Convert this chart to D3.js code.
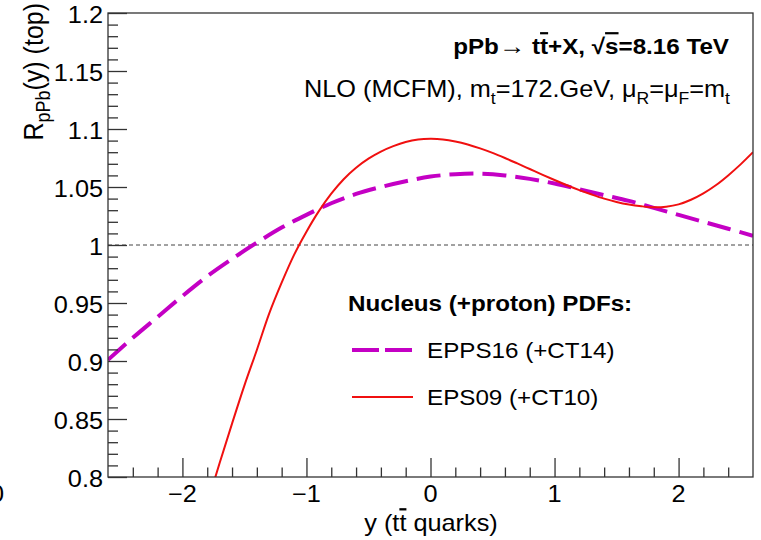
<!DOCTYPE html>
<html><head><meta charset="utf-8">
<script src="https://cdn.jsdelivr.net/npm/d3@7/dist/d3.min.js"></script>
<style>
body{margin:0;background:#fff;}
svg{display:block;}
text{font-family:"Liberation Sans",Arial,Helvetica,sans-serif;fill:#000;}
</style>
</head><body>
<svg id="c" width="761" height="540"></svg>
<script>
// ---- data ----
const xDomain = [-2.6, 2.6];
const yDomain = [0.8, 1.2];
const xTicks = [-2, -1, 0, 1, 2];
const xTickLabels = ["\u22122", "\u22121", "0", "1", "2"];
const yTicks = [0.8, 0.85, 0.9, 0.95, 1, 1.05, 1.1, 1.15, 1.2];
const yTickLabels = ["0.8", "0.85", "0.9", "0.95", "1", "1.05", "1.1", "1.15", "1.2"];

const eppsX = [-2.6,-2.4,-2.2,-2.0,-1.8,-1.6,-1.4,-1.2,-1.0,-0.8,-0.6,-0.4,-0.2,0.0,0.2,0.4,0.6,0.8,1.0,1.2,1.4,1.6,1.8,2.0,2.2,2.4,2.6];
const eppsY = [0.901,0.920,0.938,0.956,0.973,0.988,1.002,1.015,1.026,1.036,1.044,1.050,1.055,1.059,1.061,1.0615,1.060,1.057,1.053,1.048,1.043,1.038,1.032,1.026,1.020,1.014,1.008];

const epsX = [-1.8,-1.7,-1.6,-1.5,-1.4,-1.3,-1.2,-1.1,-1.0,-0.9,-0.8,-0.7,-0.6,-0.5,-0.4,-0.3,-0.2,-0.1,0.0,0.1,0.2,0.3,0.4,0.5,0.6,0.7,0.8,0.9,1.0,1.1,1.2,1.3,1.4,1.5,1.6,1.7,1.8,1.9,2.0,2.1,2.2,2.3,2.4,2.5,2.6];
const epsY = [0.777,0.812,0.846,0.879,0.9095,0.941,0.9675,0.9915,1.0115,1.0292,1.0442,1.0567,1.0666,1.0744,1.0805,1.0852,1.0888,1.0909,1.0915,1.0910,1.0893,1.0867,1.0833,1.0794,1.0750,1.0703,1.0655,1.0607,1.0560,1.0515,1.0473,1.0435,1.0400,1.0371,1.0349,1.0334,1.0325,1.0330,1.0350,1.0390,1.0445,1.0515,1.0600,1.0695,1.0800];

const seriesNames = ["EPPS16 (+CT14)", "EPS09 (+CT10)"];
const seriesColors = ["#c400c4", "#f01010"];

// ---- layout ----
const L = 108, R = 753, T = 13, B = 477;
const SX = 1.1; // horizontal text stretch seen in reference

const svg = d3.select("#c");
const x = d3.scaleLinear().domain(xDomain).range([L, R]);
const y = d3.scaleLinear().domain(yDomain).range([B, T]);

const axisCol = "#333";

svg.append("defs").append("clipPath").attr("id", "clip")
  .append("rect").attr("x", L).attr("y", T).attr("width", R - L).attr("height", B - T);

// reference line at 1
svg.append("line")
  .attr("x1", L).attr("x2", R).attr("y1", y(1)).attr("y2", y(1))
  .attr("stroke", "#444").attr("stroke-width", 1).attr("stroke-dasharray", "4,3");

// curves
const line = d3.line().x(d => x(d[0])).y(d => y(d[1])).curve(d3.curveCatmullRom.alpha(0.5));
const g = svg.append("g").attr("clip-path", "url(#clip)");
g.append("path").datum(eppsX.map((v, i) => [v, eppsY[i]]))
  .attr("d", line).attr("fill", "none").attr("stroke", seriesColors[0])
  .attr("stroke-width", 4).attr("stroke-dasharray", "24,9");
g.append("path").datum(epsX.map((v, i) => [v, epsY[i]]))
  .attr("d", line).attr("fill", "none").attr("stroke", seriesColors[1])
  .attr("stroke-width", 2);

// frame
svg.append("rect").attr("x", L).attr("y", T).attr("width", R - L).attr("height", B - T)
  .attr("fill", "none").attr("stroke", axisCol).attr("stroke-width", 1.3);

// x axis ticks (inward)
const xMinorVals = d3.range(-26, 27, 2).map(v => v / 10)
  .filter(v => !xTicks.some(t => Math.abs(t - v) < 1e-6) && v > -2.59 && v < 2.59);
const xAxis = d3.axisTop(x).tickValues(xTicks).tickSize(19).tickFormat("");
const xAxisMinor = d3.axisTop(x).tickValues(xMinorVals).tickSize(9.5).tickFormat("");
[xAxis, xAxisMinor].forEach(a => {
  const gg = svg.append("g").attr("transform", `translate(0,${B})`).call(a);
  gg.select(".domain").remove();
  gg.selectAll("line").attr("stroke", axisCol).attr("stroke-width", 1.3);
});
// y axis ticks (inward)
const yMinorVals = d3.range(80, 121, 1).map(v => v / 100)
  .filter(v => !yTicks.some(t => Math.abs(t - v) < 1e-6));
const yAxis = d3.axisRight(y).tickValues(yTicks).tickSize(19).tickFormat("");
const yAxisMinor = d3.axisRight(y).tickValues(yMinorVals).tickSize(10).tickFormat("");
[yAxis, yAxisMinor].forEach(a => {
  const gg = svg.append("g").attr("transform", `translate(${L},0)`).call(a);
  gg.select(".domain").remove();
  gg.selectAll("line").attr("stroke", axisCol).attr("stroke-width", 1.3);
});

// helper for stretched text
function stext(px, py, anchor, size, weight) {
  return svg.append("g").attr("transform", `translate(${px},${py}) scale(${SX},1)`)
    .append("text").attr("text-anchor", anchor).attr("font-size", size).attr("font-weight", weight || "normal");
}

// tick labels
yTicks.forEach((v, i) => stext(103, y(v) + 9.8, "end", 23).text(yTickLabels[i]));
xTicks.forEach((v, i) => stext(x(v), 502, "middle", 23).text(xTickLabels[i]));

// clipped label fragment at the left edge (as in the reference)
stext(4, 502, "end", 23).text("0");

// axis titles
const xt = stext(431, 531, "middle", 23);
xt.append("tspan").text("y (t");
xt.append("tspan").text("t").style("text-decoration", "overline");
xt.append("tspan").text(" quarks)");

const ytG = svg.append("g").attr("transform", `translate(43,3) scale(${SX},1) rotate(-90)`);
const yt = ytG.append("text").attr("text-anchor", "end").attr("font-size", 25);
yt.append("tspan").text("R");
yt.append("tspan").attr("font-size", 18).attr("dy", 6).text("pPb");
yt.append("tspan").attr("dy", -6).text("(y) (top)");

// header texts
const t1 = stext(729, 54, "end", 22, "bold");
t1.append("tspan").text("pPb");
t1.append("tspan").attr("font-weight", "normal").attr("font-size", 24).text("\u2192");
t1.append("tspan").text(" t");
t1.append("tspan").text("t").style("text-decoration", "overline");
t1.append("tspan").text("+X,  \u221A");
t1.append("tspan").text("s").style("text-decoration", "overline");
t1.append("tspan").text("=8.16 TeV");

const t2 = stext(730, 97, "end", 23);
t2.append("tspan").text("NLO (MCFM), m");
t2.append("tspan").attr("font-size", 16).attr("dy", 7).text("t");
t2.append("tspan").attr("dy", -7).text("=172.GeV, \u03BC");
t2.append("tspan").attr("font-size", 16).attr("dy", 7).text("R");
t2.append("tspan").attr("dy", -7).text("=\u03BC");
t2.append("tspan").attr("font-size", 16).attr("dy", 7).text("F");
t2.append("tspan").attr("dy", -7).text("=m");
t2.append("tspan").attr("font-size", 16).attr("dy", 7).text("t");

// legend
stext(348, 311, "start", 22, "bold").text("Nucleus (+proton) PDFs:");
const legRows = [350, 397];
seriesNames.forEach((name, i) => {
  svg.append("line").attr("x1", 352).attr("x2", 413).attr("y1", legRows[i]).attr("y2", legRows[i])
    .attr("stroke", seriesColors[i]).attr("stroke-width", i === 0 ? 4 : 2)
    .attr("stroke-dasharray", i === 0 ? "27,6" : null);
  stext(427, legRows[i] + 8, "start", 22).text(name);
});
</script>
</body></html>
